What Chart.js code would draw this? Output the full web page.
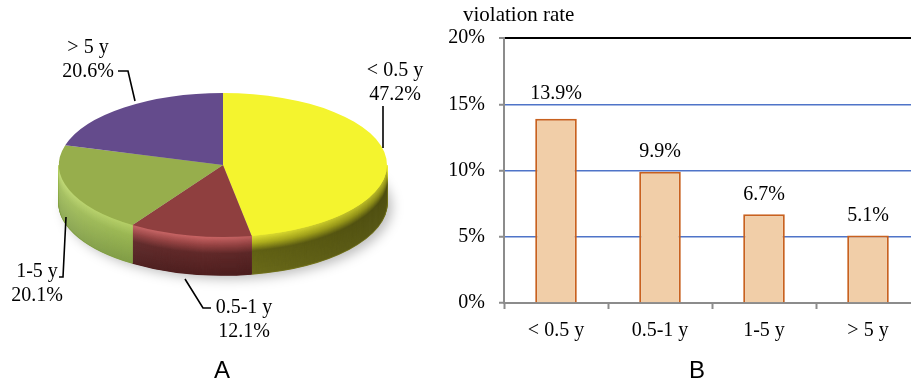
<!DOCTYPE html>
<html>
<head>
<meta charset="utf-8">
<script src="https://cdn.jsdelivr.net/npm/chart.js@4"></script>
<style>
  html, body { margin: 0; padding: 0; background: #ffffff; }
  body { width: 911px; height: 386px; overflow: hidden; position: relative; }
  #pie { position: absolute; left: 0; top: 0; }
  #bar { position: absolute; left: 440px; top: 0; }
</style>
</head>
<body>
<canvas id="pie" width="450" height="386"></canvas>
<canvas id="bar" width="490" height="386"></canvas>
<script>
// ---- data ----
const ageGroups = ['< 0.5 y', '0.5-1 y', '1-5 y', '> 5 y'];
const shareOfCases = [47.2, 12.1, 20.1, 20.6];     // panel A, percent of cases
const violationRate = [13.9, 9.9, 6.7, 5.1];       // panel B, percent
const rateTicks = [0, 5, 10, 15, 20];

// ---- styles ----
const SERIF = '"Liberation Serif", "Times New Roman", serif';
const SANS = '"Liberation Sans", Arial, sans-serif';
const topColors = ['#f4f42e', '#8f3f3f', '#97ae4c', '#644b8c'];
const sideStops = [
  [[0, [236, 236, 50]], [0.18, [186, 186, 32]], [0.38, [104, 104, 22]], [1, [114, 114, 28]]],
  [[0, [200, 100, 100]], [0.2, [152, 68, 68]], [0.42, [98, 42, 42]], [1, [80, 32, 32]]],
  [[0, [182, 210, 100]], [0.28, [156, 186, 80]], [1, [128, 158, 66]]],
  [[0, [130, 105, 170]], [1, [80, 60, 115]]]
];
// tilted-disc geometry (centre, vertical radius, thickness)
const TILT = { cx: 223, cy: 165, ry: 72, depth: 38 };
const PIE_LABEL_LAYOUT = [
  { x: 395, y: 76, leader: [[383, 106], [383, 148]] },
  { x: 244, y: 313, leader: [[185, 279], [203, 308], [211, 308]] },
  { x: 37, y: 277, leader: [[66, 217], [63, 277], [59, 277]] },
  { x: 88, y: 53, leader: [[118, 71], [128, 71], [135, 101]] }
];
const VALUE_LABEL_GAPS = [20, 15, 14, 14];
const AXIS_GREY = '#8c8c8c';
const GRID_BLUE = '#4f74c8';

function mix(stops, t) {
  for (let j = 1; j < stops.length; j++) {
    if (t <= stops[j][0]) {
      const [t0, c0] = stops[j - 1];
      const [t1, c1] = stops[j];
      const f = (t - t0) / ((t1 - t0) || 1);
      return 'rgb(' + c0.map((v, k) => Math.round(v + (c1[k] - v) * f)).join(',') + ')';
    }
  }
  return 'rgb(' + stops[stops.length - 1][1].join(',') + ')';
}

// Draws the pie as a tilted disc: shadow and rim first, then the
// library's own arcs squashed onto the top face.
const tiltPlugin = {
  id: 'tilt3d',
  beforeDatasetsDraw(chart) {
    const ctx = chart.ctx;
    const arcs = chart.getDatasetMeta(0).data;
    if (!arcs.length) return;
    const R = arcs[0].outerRadius;
    const { cx, cy, ry, depth } = TILT;

    ctx.save();
    ctx.filter = 'blur(6px)';
    ctx.fillStyle = 'rgba(0,0,0,0.26)';
    ctx.beginPath();
    ctx.ellipse(cx + 5, cy + depth + 4, R, ry, 0, 0, Math.PI * 2);
    ctx.fill();
    ctx.restore();

    ctx.save();
    arcs.forEach((arc, i) => {
      const a1 = Math.max(arc.startAngle, 0);
      const a2 = Math.min(arc.endAngle, Math.PI);
      if (a2 <= a1) return;
      for (let d = depth; d >= 0; d -= 0.5) {
        ctx.beginPath();
        ctx.ellipse(cx, cy + d, R, ry, 0, a1, a2);
        ctx.strokeStyle = mix(sideStops[i], d / depth);
        ctx.lineWidth = 1.5;
        ctx.stroke();
      }
    });
    // light from the left along the rim
    ctx.beginPath();
    ctx.ellipse(cx, cy, R, ry, 0, 0, Math.PI);
    ctx.ellipse(cx, cy + depth, R, ry, 0, Math.PI, 0, true);
    ctx.closePath();
    ctx.clip();
    const g = ctx.createLinearGradient(cx - R, 0, cx + R, 0);
    g.addColorStop(0, 'rgba(255,255,255,0.12)');
    g.addColorStop(0.45, 'rgba(0,0,0,0)');
    g.addColorStop(1, 'rgba(0,0,0,0.25)');
    ctx.fillStyle = g;
    ctx.fillRect(cx - R - 2, cy - 2, 2 * R + 4, ry + depth + 4);
    ctx.restore();

    const a = arcs[0];
    ctx.save();
    ctx.translate(cx, cy);
    ctx.scale(1, ry / R);
    ctx.translate(-a.x, -a.y);
  },
  afterDatasetsDraw(chart) {
    chart.ctx.restore();
  },
  afterDraw(chart) {
    const ctx = chart.ctx;
    ctx.save();
    ctx.fillStyle = '#000';
    ctx.strokeStyle = '#000';
    ctx.lineWidth = 1.6;
    ctx.font = '20px ' + SERIF;
    ctx.textAlign = 'center';
    ctx.textBaseline = 'alphabetic';
    PIE_LABEL_LAYOUT.forEach((L, i) => {
      ctx.fillText(ageGroups[i], L.x, L.y);
      ctx.fillText(shareOfCases[i].toFixed(1) + '%', L.x, L.y + 24);
      ctx.beginPath();
      L.leader.forEach(([px, py], k) => (k ? ctx.lineTo(px, py) : ctx.moveTo(px, py)));
      ctx.stroke();
    });
    ctx.font = '24px ' + SANS;
    ctx.fillText('A', 222, 378);
    ctx.restore();
  }
};

new Chart(document.getElementById('pie'), {
  type: 'pie',
  data: {
    labels: ageGroups,
    datasets: [{
      data: shareOfCases,
      backgroundColor: topColors,
      borderWidth: 0,
      radius: 164,
      clip: false
    }]
  },
  options: {
    responsive: false,
    animation: false,
    events: [],
    layout: { padding: 0 },
    plugins: { legend: { display: false }, tooltip: { enabled: false } }
  },
  plugins: [tiltPlugin]
});

// Value labels, axis caption and panel letter for the bar panel
const barAnnotations = {
  id: 'barAnnotations',
  afterDatasetsDraw(chart) {
    const ctx = chart.ctx;
    const bars = chart.getDatasetMeta(0).data;
    ctx.save();
    ctx.fillStyle = '#000';
    ctx.font = '20px ' + SERIF;
    ctx.textAlign = 'center';
    ctx.textBaseline = 'alphabetic';
    bars.forEach((bar, i) => {
      ctx.fillText(violationRate[i].toFixed(1) + '%', bar.x, bar.y - VALUE_LABEL_GAPS[i]);
    });
    ctx.restore();
  },
  afterDraw(chart) {
    const ctx = chart.ctx;
    ctx.save();
    ctx.fillStyle = '#000';
    ctx.textBaseline = 'alphabetic';
    ctx.font = '21px ' + SERIF;
    ctx.textAlign = 'left';
    ctx.fillText('violation rate', 23, 21);
    ctx.font = '24px ' + SANS;
    ctx.textAlign = 'center';
    ctx.fillText('B', 257, 378);
    ctx.restore();
  }
};

new Chart(document.getElementById('bar'), {
  type: 'bar',
  data: {
    labels: ageGroups,
    datasets: [{
      data: violationRate,
      backgroundColor: '#f1cea8',
      borderColor: '#c8611f',
      borderWidth: 2,
      barPercentage: 0.4,
      categoryPercentage: 1
    }]
  },
  options: {
    responsive: false,
    animation: false,
    events: [],
    layout: { padding: { left: 0, top: 38, right: 10, bottom: 0 } },
    plugins: { legend: { display: false }, tooltip: { enabled: false } },
    scales: {
      x: {
        grid: { offset: true, drawOnChartArea: false, tickLength: 6, tickColor: AXIS_GREY, tickWidth: 2 },
        border: { color: AXIS_GREY, width: 2 },
        ticks: { color: '#000', font: { family: SERIF, size: 20 }, padding: 10 },
        afterFit(s) { s.height = 83; }
      },
      y: {
        min: 0,
        max: 20,
        afterBuildTicks(s) { s.ticks = rateTicks.map(v => ({ value: v })); },
        ticks: { color: '#000', font: { family: SERIF, size: 20 }, padding: 14, callback: v => v + '%' },
        grid: {
          color: c => (c.tick.value === 20 ? '#000' : c.tick.value === 0 ? AXIS_GREY : GRID_BLUE),
          lineWidth: c => (c.tick.value === 20 ? 2 : 1.5),
          tickLength: 5,
          tickColor: AXIS_GREY,
          tickWidth: 2
        },
        border: { color: AXIS_GREY, width: 2 },
        afterFit(s) { s.width = 64; }
      }
    }
  },
  plugins: [barAnnotations]
});
</script>
</body>
</html>
